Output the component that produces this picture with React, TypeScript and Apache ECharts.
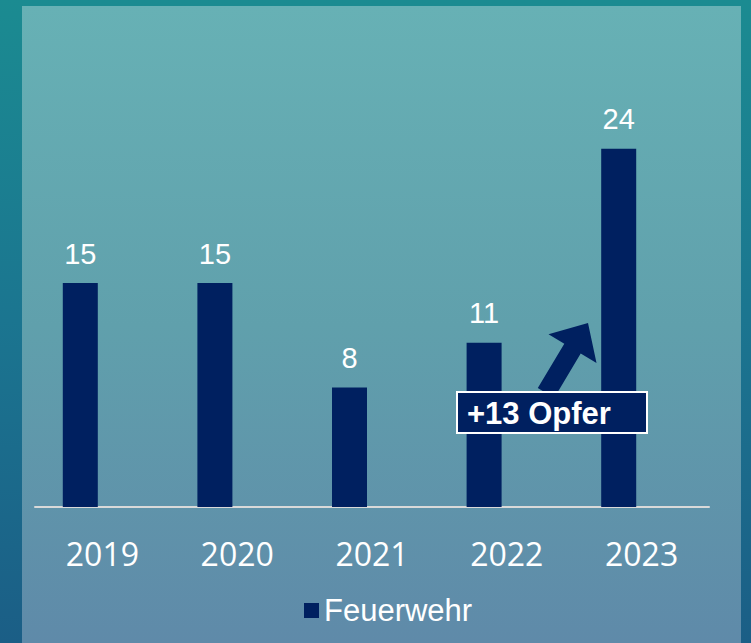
import React, { useEffect, useRef } from "react";
import * as echarts from "echarts";

const categories = ["2019", "2020", "2021", "2022", "2023"];
const seriesName = "Feuerwehr";
const values = [15, 15, 8, 11, 24];
const annotationText = "+13 Opfer";

export default function App() {
  const ref = useRef<HTMLDivElement>(null);

  useEffect(() => {
    document.body.style.margin = "0";
    const chart = echarts.init(ref.current!, undefined, { renderer: "svg" });
    const navy = "#002060";
    chart.setOption({
      animation: false,
      backgroundColor: "transparent",
      grid: [
        { left: 13, right: 65, top: 89, bottom: 136 },
        { left: 35, right: 42, top: 89, bottom: 136 },
      ],
      legend: {
        data: [seriesName],
        left: 299,
        top: 590,
        icon: "rect",
        itemWidth: 15,
        itemHeight: 15,
        itemGap: 10,
        textStyle: { color: "#ffffff", fontSize: 31, fontFamily: "Liberation Sans, Arial, sans-serif", padding: [0, 0, 0, 0] },
      },
      xAxis: [
        {
          type: "category",
          gridIndex: 0,
          data: categories,
          axisLine: { show: false },
          axisTick: { show: false },
          axisLabel: { show: false },
        },
        {
          type: "category",
          gridIndex: 1,
          data: categories,
          axisLine: { show: true, lineStyle: { color: "#d9d9d9", width: 2 } },
          axisTick: { show: false },
          axisLabel: { color: "#ffffff", fontSize: 32, fontFamily: "Open Sans, Noto Sans, sans-serif", margin: 30 },
        },
      ],
      yAxis: [
        { type: "value", gridIndex: 0, min: 0, max: 28, show: false, splitLine: { show: false } },
        { type: "value", gridIndex: 1, min: 0, max: 28, show: false, splitLine: { show: false } },
      ],
      series: [
        {
          name: seriesName,
          type: "bar",
          xAxisIndex: 0,
          yAxisIndex: 0,
          data: values,
          barWidth: 35,
          z: 3,
          itemStyle: { color: navy },
          label: {
            show: true,
            position: "top",
            distance: 15,
            color: "#ffffff",
            fontSize: 29,
            fontFamily: "Liberation Sans, Arial, sans-serif",
          },
        },
        {
          name: "axis",
          type: "bar",
          xAxisIndex: 1,
          yAxisIndex: 1,
          data: [],
          silent: true,
        },
      ],
      graphic: [
        {
          type: "polygon",
          z: 100,
          shape: {
            points: [
              [537.8, 388.1],
              [564.3, 343.8],
              [548.5, 334.3],
              [588, 323],
              [596.5, 363.1],
              [580.7, 353.6],
              [554.2, 397.9],
            ],
          },
          style: { fill: navy },
        },
        {
          type: "rect",
          z: 101,
          shape: { x: 457, y: 392, width: 190, height: 41 },
          style: { fill: navy, stroke: "#ffffff", lineWidth: 2 },
        },
        {
          type: "text",
          z: 102,
          x: 467,
          y: 413,
          style: {
            text: annotationText,
            fill: "#ffffff",
            font: "bold 31px 'Liberation Sans', Arial, sans-serif",
            verticalAlign: "middle",
            textAlign: "left",
          },
        },
      ],
    });
    return () => chart.dispose();
  }, []);

  return (
    <div
      style={{
        position: "fixed",
        left: 0,
        top: 0,
        width: 751,
        height: 643,
        background: "linear-gradient(180deg, #1b8b91 0%, #1b7590 50%, #1b5e86 100%)",
        overflow: "hidden",
      }}
    >
      <div
        style={{
          position: "absolute",
          left: 22,
          top: 6,
          width: 719,
          height: 637,
          background: "linear-gradient(180deg, #67b1b5 0%, #60a0ac 50%, #5f8aa9 100%)",
        }}
      />
      <div ref={ref} style={{ position: "absolute", left: 0, top: 0, width: 751, height: 643 }} />
    </div>
  );
}
